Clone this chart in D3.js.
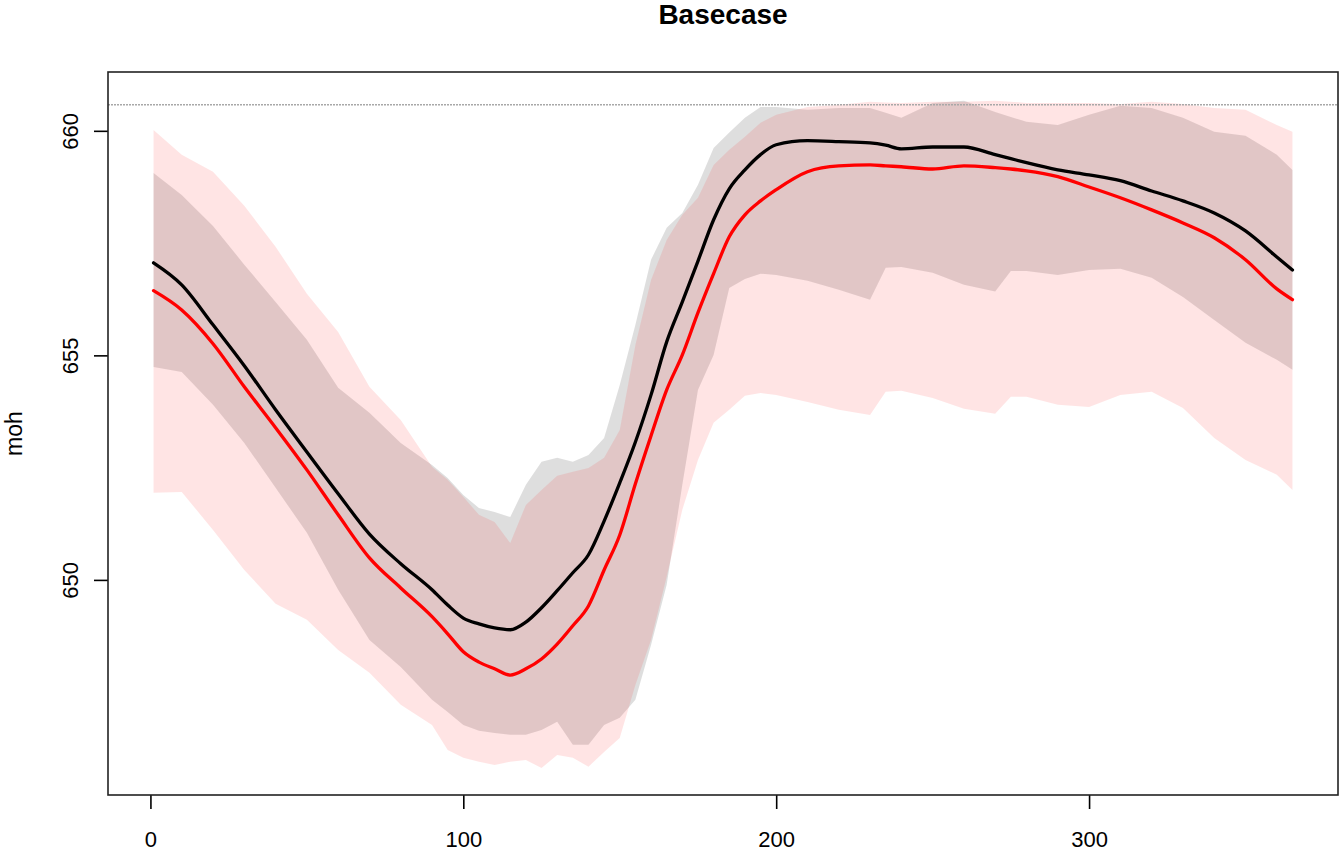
<!DOCTYPE html>
<html><head><meta charset="utf-8">
<script src="https://cdn.jsdelivr.net/npm/d3@7"></script>
<style>
body{margin:0;background:#fff}
svg{display:block}
text{font-family:"Liberation Sans",Arial,Helvetica,sans-serif;fill:#000}
</style>
</head><body>
<svg id="chart" width="1342" height="853"></svg>
<script>
// ---- data ----
const days = [1,10,20,30,40,50,60,70,80,90,95,100,105,110,115,120,125,130,135,140,145,150,155,160,165,170,175,180,185,190,195,200,210,220,230,235,240,250,260,270,275,280,290,300,310,320,330,340,350,360,365];

const blackMean = [657.06,656.57,655.68,654.77,653.79,652.85,651.92,651.02,650.36,649.78,
  649.44,649.15,649.02,648.93,648.89,649.06,649.38,649.76,650.16,650.56,651.31,652.16,653.07,654.12,655.30,656.19,657.10,658.02,658.71,659.13,659.47,659.69,
  659.78,659.76,659.73,659.68,659.60,659.64,659.64,659.47,659.38,659.29,659.13,659.02,658.89,658.66,658.44,658.17,657.77,657.19,656.90];

const redMean = [656.44,656.01,655.26,654.30,653.39,652.45,651.45,650.49,649.82,649.18,
  648.80,648.40,648.17,648.02,647.88,648.02,648.24,648.57,648.98,649.42,650.22,651.00,652.14,653.21,654.23,655.01,655.95,656.82,657.64,658.13,658.44,658.69,
  659.09,659.22,659.24,659.22,659.20,659.15,659.22,659.18,659.15,659.11,658.98,658.75,658.51,658.24,657.95,657.62,657.13,656.48,656.24];

const grayUpper = [659.06,658.57,657.88,657.02,656.19,655.35,654.28,653.72,653.05,652.56,
  652.27,651.89,651.60,651.51,651.40,652.12,652.63,652.72,652.63,652.78,653.16,654.34,655.68,657.13,657.84,658.17,658.80,659.62,659.96,660.29,660.53,660.53,
  660.47,660.51,660.51,660.40,660.29,660.62,660.67,660.42,660.31,660.20,660.13,660.36,660.56,660.51,660.29,659.98,659.89,659.47,659.13];

const grayLower = [654.74,654.63,653.90,653.05,652.05,651.05,649.78,648.66,648.06,647.33,
  647.06,646.77,646.64,646.59,646.55,646.55,646.66,646.84,646.33,646.33,646.77,646.93,647.33,648.55,649.89,652.12,654.23,655.01,656.50,656.70,656.82,656.79,
  656.66,656.46,656.24,656.95,656.97,656.84,656.57,656.42,656.88,656.88,656.79,656.90,656.93,656.73,656.30,655.79,655.28,654.90,654.68];

const pinkUpper = [660.02,659.47,659.09,658.33,657.42,656.37,655.52,654.30,653.56,652.52,
  652.23,651.85,651.45,651.29,650.82,651.67,652.00,652.32,652.41,652.49,652.72,653.34,655.23,656.68,657.57,658.13,658.51,659.24,659.58,659.87,660.18,660.36,
  660.53,660.58,660.65,660.63,660.62,660.65,660.65,660.67,660.65,660.62,660.62,660.62,660.60,660.65,660.60,660.51,660.47,660.13,659.98];

const pinkLower = [651.94,651.96,651.11,650.22,649.47,649.11,648.44,647.93,647.22,646.77,
  646.21,646.04,645.95,645.88,645.95,645.99,645.81,646.10,646.04,645.84,646.17,646.48,647.66,648.66,650.07,651.56,652.67,653.50,653.79,654.10,654.16,654.12,
  653.96,653.79,653.67,654.19,654.21,654.05,653.81,653.70,654.08,654.08,653.90,653.85,654.12,654.19,653.83,653.16,652.67,652.34,652.00];

const xTicks = [0,100,200,300];
const yTicks = [650,655,660];
const refLevel = 660.58;
const chartTitle = "Basecase";
const yTitle = "moh";

// ---- drawing ----
const svg = d3.select("#chart");
const L = 108, R = 1338, T = 72, B = 795;
const x = d3.scaleLinear().domain([-13.56, 379.56]).range([L, R]);
const y = d3.scaleLinear().domain([645.21, 661.31]).range([B, T]);

const idx = days.map((d,i)=>i);

const band = (lo, hi) => d3.area()
  .x(i => x(days[i]))
  .y0(i => y(lo[i]))
  .y1(i => y(hi[i]))
  .curve(d3.curveLinear);

svg.append("path").attr("d", band(grayLower, grayUpper)(idx))
  .attr("fill", "rgba(0,0,0,0.13)");
svg.append("path").attr("d", band(pinkLower, pinkUpper)(idx))
  .attr("fill", "rgba(255,0,0,0.105)");

svg.append("line")
  .attr("x1", L).attr("x2", R)
  .attr("y1", y(refLevel)).attr("y2", y(refLevel))
  .attr("stroke", "#a8a8a8").attr("stroke-width", 1.5)
  .attr("stroke-dasharray", "2,1");

const line = vals => d3.line()
  .x(i => x(days[i]))
  .y(i => y(vals[i]))
  .curve(d3.curveMonotoneX);

svg.append("path").attr("d", line(blackMean)(idx))
  .attr("fill", "none").attr("stroke", "#000").attr("stroke-width", 3.3)
  .attr("stroke-linejoin", "round").attr("stroke-linecap", "round");
svg.append("path").attr("d", line(redMean)(idx))
  .attr("fill", "none").attr("stroke", "#ff0000").attr("stroke-width", 3.3)
  .attr("stroke-linejoin", "round").attr("stroke-linecap", "round");

// axes
const gx = svg.append("g").attr("transform", `translate(0,${B})`)
  .call(d3.axisBottom(x).tickValues(xTicks).tickSize(14).tickFormat(d3.format("d")));
gx.select(".domain").remove();
gx.selectAll(".tick line").attr("stroke", "#000").attr("stroke-width", 1.6);
gx.selectAll(".tick text").attr("y", 52).attr("dy", 0)
  .style("font-size", "22px").attr("fill", "#000");

const gy = svg.append("g").attr("transform", `translate(${L},0)`)
  .call(d3.axisLeft(y).tickValues(yTicks).tickSize(14).tickFormat(d3.format("d")));
gy.select(".domain").remove();
gy.selectAll(".tick line").attr("stroke", "#000").attr("stroke-width", 1.6);
gy.selectAll(".tick text")
  .attr("x", null).attr("dy", null)
  .attr("text-anchor", "middle")
  .attr("transform", "translate(-30,0) rotate(-90)")
  .style("font-size", "22px").attr("fill", "#000");

// box
svg.append("rect").attr("x", L).attr("y", T)
  .attr("width", R - L).attr("height", B - T)
  .attr("fill", "none").attr("stroke", "#222").attr("stroke-width", 1.6);

// titles
svg.append("text").attr("x", (L + R) / 2).attr("y", 24)
  .attr("text-anchor", "middle").style("font-size", "28px").style("font-weight", "bold")
  .text(chartTitle);
svg.append("text")
  .attr("transform", `translate(22,${(T + B) / 2}) rotate(-90)`)
  .attr("text-anchor", "middle").style("font-size", "23px")
  .text(yTitle);
</script>
</body></html>
